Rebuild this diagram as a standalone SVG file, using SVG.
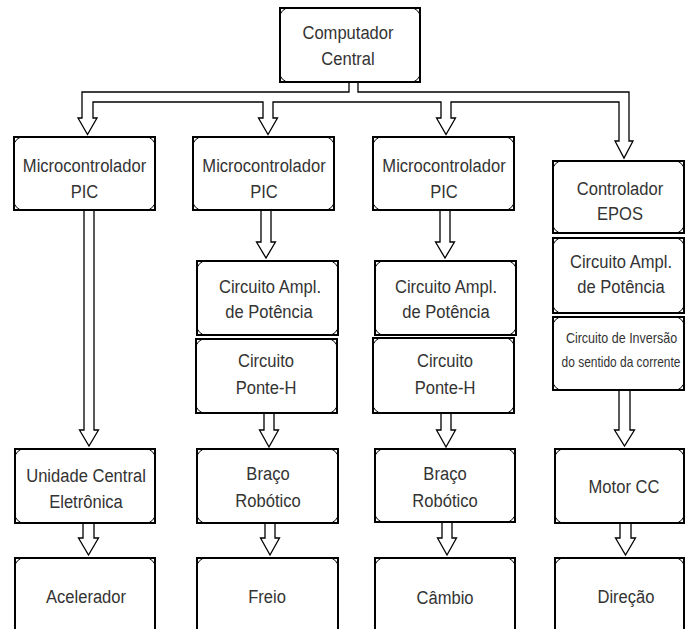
<svg xmlns="http://www.w3.org/2000/svg" width="686" height="629" viewBox="0 0 686 629">
<style>
.sq{fill:#fff;stroke:#000;stroke-width:2}
.rr{fill:none;stroke:#000;stroke-width:1}
.t{font-family:"Liberation Sans",Arial,sans-serif;font-size:18.4px;fill:#333;text-anchor:middle}
.s{font-size:13.9px}
.ar{fill:#fff;stroke:#000;stroke-width:1.3;stroke-linejoin:miter}
</style>
<rect width="686" height="629" fill="#fff"/>
<g id="connectors">
<path class="ar" d="M349,82 V92 H82 V118 H78 L87.5,134.5 L97,118 H93 V102 H263 V118 H258.5 L268,134.5 L277.5,118 H273 V102 H441 V118 H436.5 L446,134.5 L455.5,118 H451 V102 H619 V141 H615 L624,158 L633,141 H629 V92 H358 V82"/>
<polyline class="ar" points="84,210 84,430 79.5,430 89,446 98.5,430 94,430 94,210"/>
<polyline class="ar" points="83,523 83,538 78.5,538 88.5,555 98.5,538 94,538 94,523"/>
<polyline class="ar" points="261,210 261,242 256.5,242 266,258 275.5,242 271,242 271,210"/>
<polyline class="ar" points="264,413 264,430 259.5,430 269,447 278.5,430 274,430 274,413"/>
<polyline class="ar" points="265,523 265,538 260.5,538 270,555 279.5,538 275,538 275,523"/>
<polyline class="ar" points="440,210 440,242 435.5,242 445,258 454.5,242 450,242 450,210"/>
<polyline class="ar" points="441,413 441,430 436.5,430 446,447 455.5,430 451,430 451,413"/>
<polyline class="ar" points="442,523 442,538 437.5,538 447,555 456.5,538 452,538 452,523"/>
<polyline class="ar" points="619,390 619,430 614.5,430 624.5,446 634.5,430 630,430 630,390"/>
<polyline class="ar" points="620,523 620,538 615.5,538 625.5,555 635.5,538 631,538 631,523"/>
</g>
<g id="computador">
<rect class="sq" x="280" y="8" width="140" height="74"/><rect class="rr" x="280" y="8" width="140" height="74" rx="9"/>
<text class="t" transform="translate(348,39) scale(0.9,1)">Computador</text><text class="t" transform="translate(348,65) scale(0.9,1)">Central</text>
</g>
<g id="pic1">
<rect class="sq" x="14" y="137" width="141" height="73"/><rect class="rr" x="14" y="137" width="141" height="73" rx="9"/>
<text class="t" transform="translate(84.5,172) scale(0.9,1)">Microcontrolador</text><text class="t" transform="translate(84.5,198) scale(0.9,1)">PIC</text>
</g>
<g id="unidade">
<rect class="sq" x="15" y="449" width="140" height="74"/><rect class="rr" x="15" y="449" width="140" height="74" rx="9"/>
<text class="t" transform="translate(86,482) scale(0.9,1)">Unidade Central</text><text class="t" transform="translate(86,508) scale(0.9,1)">Eletrônica</text>
</g>
<g id="acelerador">
<rect class="sq" x="15" y="558" width="140" height="80"/><rect class="rr" x="15" y="558" width="140" height="80" rx="9"/>
<text class="t" transform="translate(86,603) scale(0.9,1)">Acelerador</text>
</g>
<g id="pic2">
<rect class="sq" x="193" y="137" width="141" height="73"/><rect class="rr" x="193" y="137" width="141" height="73" rx="9"/>
<text class="t" transform="translate(264,172) scale(0.9,1)">Microcontrolador</text><text class="t" transform="translate(264,198) scale(0.9,1)">PIC</text>
</g>
<g id="ampl2">
<rect class="sq" x="197" y="261" width="141" height="74"/><rect class="rr" x="197" y="261" width="141" height="74" rx="9"/>
<text class="t" transform="translate(270,293) scale(0.9,1)">Circuito Ampl.</text><text class="t" transform="translate(269,318) scale(0.9,1)">de Potência</text>
</g>
<g id="ponte2">
<rect class="sq" x="196" y="339" width="141" height="74"/><rect class="rr" x="196" y="339" width="141" height="74" rx="9"/>
<text class="t" transform="translate(266,367) scale(0.9,1)">Circuito</text><text class="t" transform="translate(266,394) scale(0.9,1)">Ponte-H</text>
</g>
<g id="braco2">
<rect class="sq" x="197" y="449" width="141" height="74"/><rect class="rr" x="197" y="449" width="141" height="74" rx="9"/>
<text class="t" transform="translate(268,480) scale(0.9,1)">Braço</text><text class="t" transform="translate(268,507) scale(0.9,1)">Robótico</text>
</g>
<g id="freio">
<rect class="sq" x="197" y="558" width="141" height="80"/><rect class="rr" x="197" y="558" width="141" height="80" rx="9"/>
<text class="t" transform="translate(267,603) scale(0.9,1)">Freio</text>
</g>
<g id="pic3">
<rect class="sq" x="373" y="137" width="141" height="73"/><rect class="rr" x="373" y="137" width="141" height="73" rx="9"/>
<text class="t" transform="translate(444,172) scale(0.9,1)">Microcontrolador</text><text class="t" transform="translate(444,198) scale(0.9,1)">PIC</text>
</g>
<g id="ampl3">
<rect class="sq" x="375" y="261" width="141" height="74"/><rect class="rr" x="375" y="261" width="141" height="74" rx="9"/>
<text class="t" transform="translate(446,293) scale(0.9,1)">Circuito Ampl.</text><text class="t" transform="translate(446,318) scale(0.9,1)">de Potência</text>
</g>
<g id="ponte3">
<rect class="sq" x="373" y="338" width="141" height="75"/><rect class="rr" x="373" y="338" width="141" height="75" rx="9"/>
<text class="t" transform="translate(445,367) scale(0.9,1)">Circuito</text><text class="t" transform="translate(445,394) scale(0.9,1)">Ponte-H</text>
</g>
<g id="braco3">
<rect class="sq" x="375" y="449" width="140" height="73"/><rect class="rr" x="375" y="449" width="140" height="73" rx="9"/>
<text class="t" transform="translate(445,480) scale(0.9,1)">Braço</text><text class="t" transform="translate(445,507) scale(0.9,1)">Robótico</text>
</g>
<g id="cambio">
<rect class="sq" x="375" y="558" width="140" height="80"/><rect class="rr" x="375" y="558" width="140" height="80" rx="9"/>
<text class="t" transform="translate(445,604) scale(0.9,1)">Câmbio</text>
</g>
<g id="epos">
<rect class="sq" x="553" y="161" width="131" height="72"/><rect class="rr" x="553" y="161" width="131" height="72" rx="9"/>
<text class="t" transform="translate(620,195) scale(0.9,1)">Controlador</text><text class="t" transform="translate(620,220) scale(0.9,1)">EPOS</text>
</g>
<g id="ampl4">
<rect class="sq" x="553" y="238" width="131" height="75"/><rect class="rr" x="553" y="238" width="131" height="75" rx="9"/>
<text class="t" transform="translate(621,268) scale(0.9,1)">Circuito Ampl.</text><text class="t" transform="translate(621,293) scale(0.9,1)">de Potência</text>
</g>
<g id="inversao">
<rect class="sq" x="553" y="317" width="131" height="73"/><rect class="rr" x="553" y="317" width="131" height="73" rx="9"/>
<text class="t s" transform="translate(621.5,343) scale(0.9,1)">Circuito de Inversão</text><text class="t s" transform="translate(621,367) scale(0.86,1)">do sentido da corrente</text>
</g>
<g id="motor">
<rect class="sq" x="555" y="449" width="129" height="74"/><rect class="rr" x="555" y="449" width="129" height="74" rx="9"/>
<text class="t" transform="translate(624,493) scale(0.9,1)">Motor CC</text>
</g>
<g id="direcao">
<rect class="sq" x="555" y="558" width="129" height="80"/><rect class="rr" x="555" y="558" width="129" height="80" rx="9"/>
<text class="t" transform="translate(626,603) scale(0.9,1)">Direção</text>
</g>
</svg>
